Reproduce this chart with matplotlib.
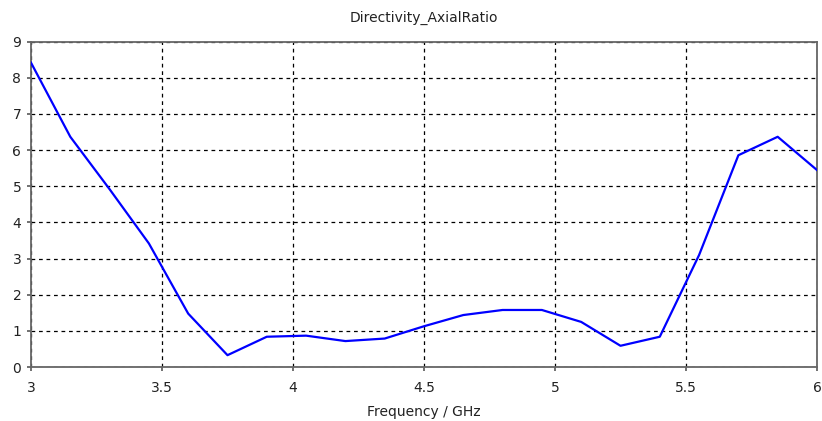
import numpy as np
import matplotlib
matplotlib.use("Agg")
import matplotlib.pyplot as plt

# frequency sweep and axial ratio samples
freq_ghz = [3.0, 3.15, 3.3, 3.45, 3.6, 3.75, 3.9, 4.05, 4.2, 4.35, 4.5,
            4.65, 4.8, 4.95, 5.1, 5.25, 5.4, 5.55, 5.7, 5.85, 6.0]
axial_ratio = [8.42, 6.37, 4.92, 3.42, 1.48, 0.33, 0.84, 0.87, 0.72, 0.79, 1.13,
               1.44, 1.58, 1.58, 1.25, 0.59, 0.84, 3.1, 5.86, 6.37, 5.45]

x_ticks = [3, 3.5, 4, 4.5, 5, 5.5, 6]
x_tick_labels = ["3", "3.5", "4", "4.5", "5", "5.5", "6"]
y_ticks = list(range(0, 10))

plt.rcParams['font.family'] = ['DejaVu Sans']

fig = plt.figure(figsize=(8.22, 4.21), dpi=100)
ax = fig.add_axes([0.0377, 0.128, 0.9562, 0.773])

ax.plot(freq_ghz, axial_ratio, color="#0000ff", lw=1.6, zorder=5)

ax.set_xlim(3, 6)
ax.set_ylim(0, 9)
ax.set_xticks(x_ticks)
ax.set_xticklabels(x_tick_labels)
ax.set_yticks(y_ticks)

ax.grid(True, color="black", linestyle=(0, (3, 3)), lw=0.9)
for sp in ax.spines.values():
    sp.set_color("#666666")
    sp.set_linewidth(1.3)
ax.tick_params(axis="both", which="major", direction="out", length=3, width=1.3,
               color="#666666", labelsize=10, labelcolor="#222222")
ax.tick_params(axis="x", pad=7)
ax.tick_params(axis="y", pad=4)

ax.set_title("Directivity_AxialRatio", fontsize=10, color="#222222", pad=14)
ax.set_xlabel("Frequency / GHz", fontsize=10, color="#222222", labelpad=7)

fig.savefig("out.png", dpi=100)
